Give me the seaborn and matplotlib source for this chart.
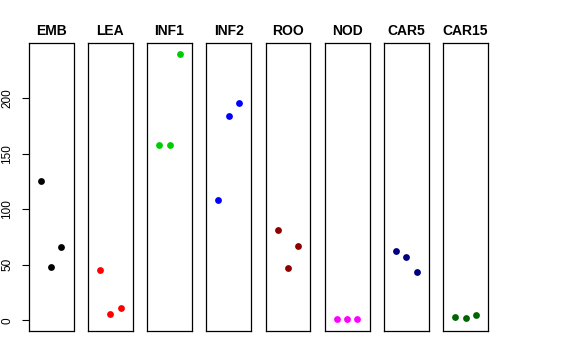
import matplotlib
matplotlib.use("Agg")
import matplotlib.pyplot as plt
import seaborn as sns
import pandas as pd

sns.set_style("white")
plt.rcParams['font.family'] = ['Liberation Sans', 'DejaVu Sans']
plt.rcParams['text.color'] = 'black'
plt.rcParams['axes.labelcolor'] = 'black'
plt.rcParams['ytick.color'] = 'black'
plt.rcParams['xtick.color'] = 'black'

tissues = ["EMB", "LEA", "INF1", "INF2", "ROO", "NOD", "CAR5", "CAR15"]
colors = ["#000000", "#FF0000", "#00CD00", "#0000FF", "#8B0000", "#FF00FF", "#000080", "#006400"]
replicate = [1, 2, 3]
emb = [125.2, 48.3, 66.0]
lea = [45.6, 5.7, 11.1]
inf1 = [157.6, 158.2, 240.2]
inf2 = [108.1, 184.3, 196.0]
roo = [81.4, 47.4, 66.9]
nod = [0.9, 0.9, 0.9]
car5 = [62.2, 57.3, 43.8]
car15 = [3.0, 2.4, 4.5]
values = [emb, lea, inf1, inf2, roo, nod, car5, car15]
yticks = [0, 50, 100, 150, 200]

W, H = 576, 360
fig = plt.figure(figsize=(W / 100, H / 100), dpi=100)

left0 = 28.7
step = 59.2
pw = 44.8
top = 43.3
bottom = 331.0

for i, (name, col, vals) in enumerate(zip(tissues, colors, values)):
    ax = fig.add_axes([(left0 + i * step) / W, (H - bottom) / H, pw / W, (bottom - top) / H])
    df = pd.DataFrame({"x": replicate, "y": vals})
    sns.scatterplot(data=df, x="x", y="y", color=col, s=24, linewidth=0, ax=ax)
    ax.set_xlim(-0.16, 4.16)
    ax.set_ylim(-9.6, 249.6)
    ax.set_xticks([])
    ax.set_xlabel("")
    ax.set_ylabel("")
    for sp in ax.spines.values():
        sp.set_visible(True)
        sp.set_color("#000000")
        sp.set_linewidth(0.9)
    ax.set_title(name, fontsize=10, fontweight="bold", pad=6, color="black")
    if i == 0:
        ax.set_yticks(yticks)
        ax.set_yticklabels([str(t) for t in yticks], rotation=90, va="center", fontsize=8.5, color="black")
        ax.tick_params(axis="y", left=True, length=5, width=0.8, pad=6, color="#000000")
    else:
        ax.set_yticks([])

fig.savefig("out.png", dpi=100)
